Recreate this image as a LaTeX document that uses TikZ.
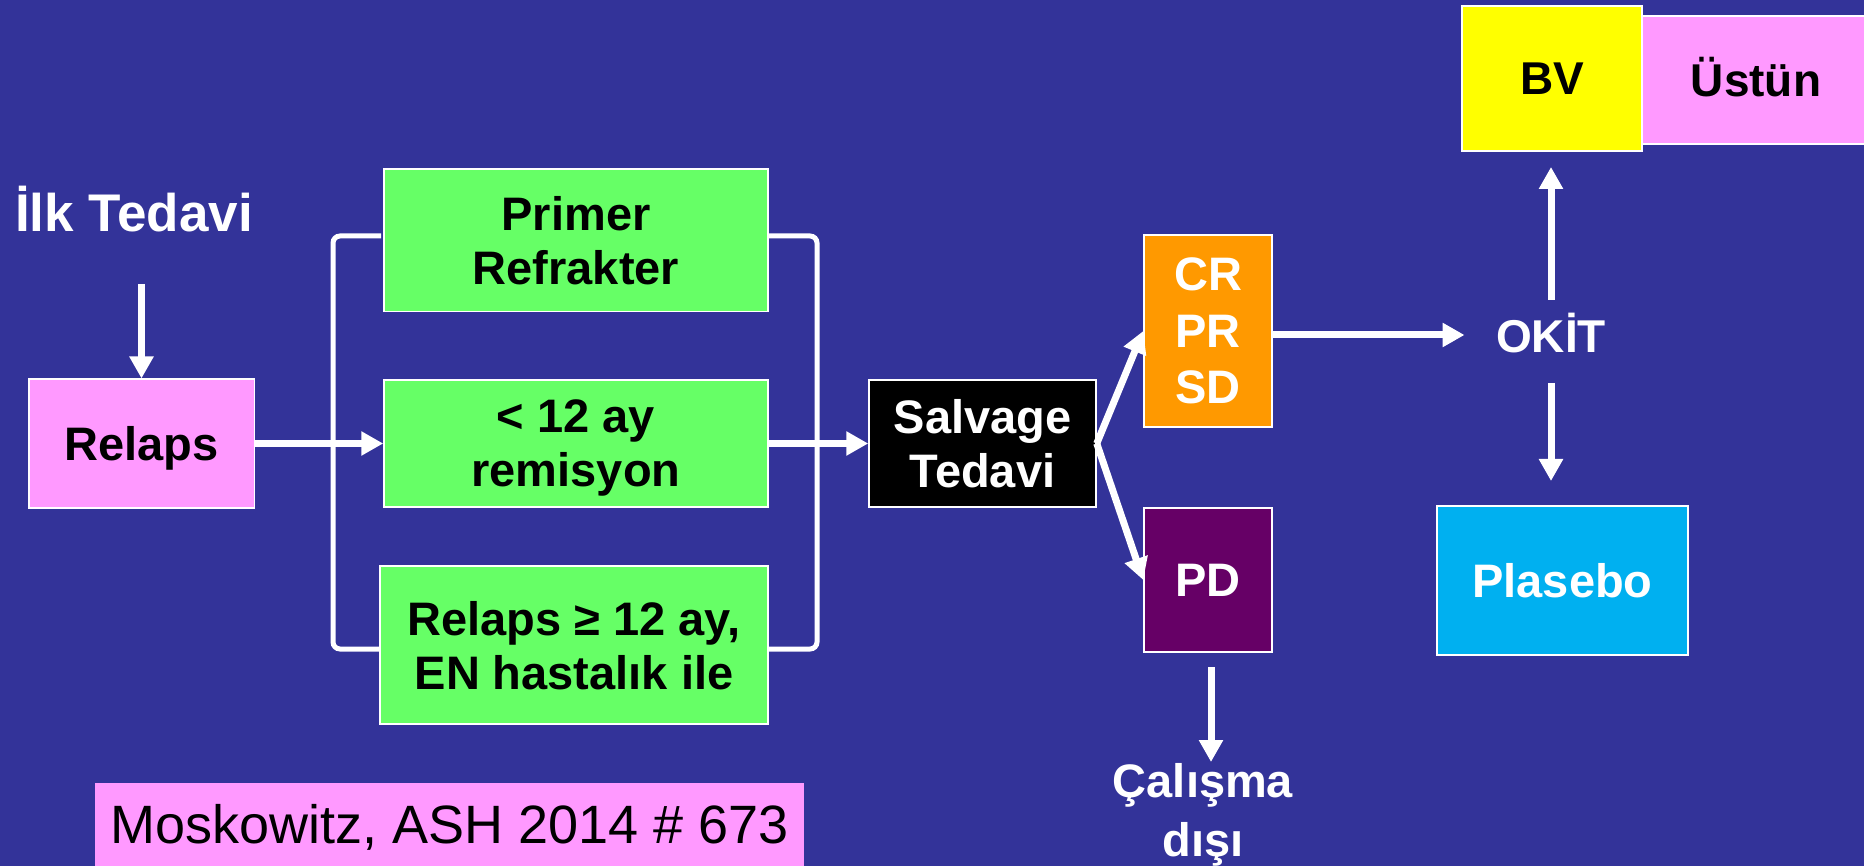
\documentclass[tikz,border=0pt]{standalone}
\usepackage{fontspec}
\setmainfont{Liberation Sans}
\usetikzlibrary{arrows.meta}

\definecolor{slidebg}{HTML}{333399}
\definecolor{boxgreen}{HTML}{66FF66}
\definecolor{boxpink}{HTML}{FF99FF}
\definecolor{boxyellow}{HTML}{FFFF00}
\definecolor{boxorange}{HTML}{FF9900}
\definecolor{boxpurple}{HTML}{660066}
\definecolor{boxcyan}{HTML}{00B0F0}

\tikzset{
  box/.style={draw=white, line width=1.5pt, inner sep=0pt, align=center,
    text depth=0pt, font=\bfseries\fontsize{47}{54}\selectfont},
  flow/.style={draw=white, line width=7pt, -{Triangle[length=22pt,width=23pt]}},
  bracket/.style={draw=white, line width=5pt, rounded corners=7pt},
  plainlabel/.style={text=white, inner sep=0pt, align=center,
    font=\bfseries\fontsize{47}{54}\selectfont}
}

\begin{document}
\begin{tikzpicture}[x=1pt, y=-1pt]
  % slide background and page size
  \fill[slidebg] (0,0) rectangle (1864,866);
  \useasboundingbox (0,0) rectangle (1864,866);

  % brackets grouping the three relapse categories
  \draw[bracket] (381,236) -- (333,236) -- (333,649) -- (380,649);
  \draw[bracket] (768,236) -- (817,236) -- (817,649) -- (768,649);

  % first-line therapy label
  \node[plainlabel, anchor=base, font=\bfseries\fontsize{53}{60}\selectfont]
    (ilk) at (134,232) {İlk Tedavi};
  \coordinate (ilkout) at (141.5,284);

  % boxes
  \node[box, fill=boxpink, minimum width=225.5pt, minimum height=128.5pt]
    (relaps) at (141.5,443.5) {Relaps};
  \node[box, fill=boxgreen, minimum width=384pt, minimum height=142.5pt]
    (primer) at (576,240.25) {Primer\\Refrakter};
  \node[box, fill=boxgreen, minimum width=384pt, minimum height=127pt]
    (lt12) at (576,443.5) {< 12 ay\\remisyon};
  \node[box, fill=boxgreen, minimum width=388pt, minimum height=158pt]
    (ge12) at (574,645) {Relaps ≥ 12 ay,\\EN hastalık ile};
  \node[box, fill=black, text=white, minimum width=227pt, minimum height=127pt]
    (salvage) at (982.5,443.5) {Salvage\\Tedavi};
  \node[box, fill=boxorange, text=white, minimum width=128pt, minimum height=192pt,
    font=\bfseries\fontsize{47}{56.5}\selectfont]
    (resp) at (1208,331) {CR\\PR\\SD};
  \node[box, fill=boxpurple, text=white, minimum width=128pt, minimum height=144pt]
    (pd) at (1208,580) {PD};
  \node[box, fill=boxyellow, minimum width=180pt, minimum height=145pt,
    font=\bfseries\fontsize{46}{54}\selectfont]
    (bv) at (1552,78.5) {BV};
  \node[box, fill=boxpink, minimum width=227pt, minimum height=128pt,
    text height=33pt, font=\bfseries\fontsize{46}{54}\selectfont]
    (ustun) at (1756,80) {Üstün};
  \node[box, fill=boxcyan, text=white, minimum width=251pt, minimum height=149pt]
    (plasebo) at (1562.5,580.5) {Plasebo};

  % transplant step and its branches
  \node[plainlabel, text height=33pt, text depth=0pt,
    font=\bfseries\fontsize{46}{54}\selectfont]
    (okit) at (1551,336) {OKİT};
  \coordinate (okitin) at (1464.5,335);
  \coordinate (okitup) at (1551,300);
  \coordinate (bvin) at (1551,167);
  \coordinate (okitdown) at (1551,383);
  \coordinate (plaseboin) at (1551,481);

  % off-study outcome
  \node[plainlabel, text depth=0pt, font=\bfseries\fontsize{47}{59}\selectfont]
    (offstudy) at (1203,810) {Çalışma\\dışı};
  \coordinate (pdout) at (1211,667);
  \coordinate (offin) at (1211,762);

  % reference
  \node[fill=boxpink, inner sep=0pt, minimum width=709pt, minimum height=88pt,
    font=\fontsize{54}{60}\selectfont]
    (ref) at (449.5,827) {Moskowitz, ASH 2014 \# 673};

  % connectors
  \draw[flow] (ilkout) -- (relaps.north);
  \draw[flow] (relaps.east) -- (lt12.west);
  \draw[flow] (lt12.east) -- (salvage.west);
  \draw[flow] (salvage.east) -- (resp.west);
  \draw[flow] (salvage.east) -- (pd.west);
  \draw[flow] (resp.east |- okitin) -- (okitin);
  \draw[flow] (okitup) -- (bvin);
  \draw[flow] (okitdown) -- (plaseboin);
  \draw[flow] (pdout) -- (offin);
\end{tikzpicture}
\end{document}
